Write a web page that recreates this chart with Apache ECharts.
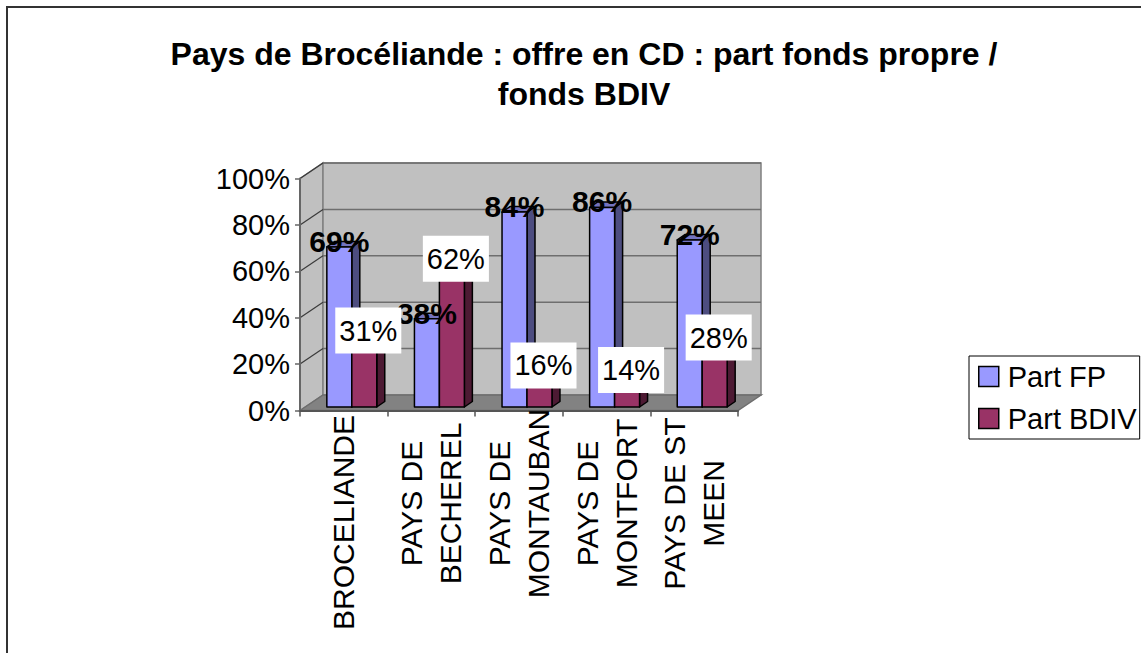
<!DOCTYPE html>
<html>
<head>
<meta charset="utf-8">
<script src="https://cdn.jsdelivr.net/npm/echarts@6/dist/echarts.min.js"></script>
<style>
  html, body { margin: 0; padding: 0; background: #fff; }
  #chart { width: 1141px; height: 653px; }
</style>
</head>
<body>
<div id="chart"></div>
<script>
var categories = ['BROCELIANDE', 'PAYS DE\nBECHEREL', 'PAYS DE\nMONTAUBAN', 'PAYS DE\nMONTFORT', 'PAYS DE ST\nMEEN'];
var partFP = [0.69, 0.38, 0.84, 0.86, 0.72];
var partBDIV = [0.31, 0.62, 0.16, 0.14, 0.28];
var yTicks = [0, 0.2, 0.4, 0.6, 0.8, 1];
var seriesNames = ['Part FP', 'Part BDIV'];

var FONT = '"Liberation Sans", Arial, sans-serif';
var WALL_DX = 23, WALL_DY = -15.5;   // depth of the back wall
var BAR_DX = 8, BAR_DY = -5.5;       // depth of one bar
var BAR_SHIFT_X = 8, BAR_SHIFT_Y = -3.5;

function pct(v) { return Math.round(v * 100) + '%'; }

// front face of bar k (0 = FP, 1 = BDIV) for the current data item
function barGeom(api, k) {
    var i = api.value(0), v = api.value(1);
    var base = api.coord([i, 0]);
    var top = api.coord([i, v]);
    var bw = api.size([1, 0])[0];
    var w = bw * 0.285;
    var x = base[0] + BAR_SHIFT_X - w + k * w;
    return { x: x, w: w, yb: base[1] + BAR_SHIFT_Y, yt: top[1] + BAR_SHIFT_Y, v: v };
}

function barRenderer(k, front, side, topc) {
    return function (params, api) {
        var g = barGeom(api, k);
        var r = g.x + g.w;
        var st = { stroke: '#000', lineWidth: 1.5, lineJoin: 'round' };
        return {
            type: 'group',
            children: [
                { type: 'polygon', shape: { points: [[r, g.yb], [r + BAR_DX, g.yb + BAR_DY], [r + BAR_DX, g.yt + BAR_DY], [r, g.yt]] },
                  style: Object.assign({ fill: side }, st) },
                { type: 'polygon', shape: { points: [[g.x, g.yt], [g.x + BAR_DX, g.yt + BAR_DY], [r + BAR_DX, g.yt + BAR_DY], [r, g.yt]] },
                  style: Object.assign({ fill: topc }, st) },
                { type: 'rect', shape: { x: g.x, y: g.yt, width: g.w, height: g.yb - g.yt },
                  style: Object.assign({ fill: front }, st) }
            ]
        };
    };
}

function labelRenderer(k) {
    return function (params, api) {
        var g = barGeom(api, k);
        var cx = g.x + g.w / 2;
        if (k === 0) {
            return { type: 'text', x: cx, y: g.yt - 5.5,
                style: { text: pct(g.v), fontFamily: FONT, fontSize: 30, fontWeight: 'bold',
                         fill: '#000', align: 'center', verticalAlign: 'middle' } };
        }
        return { type: 'text', x: cx + 4, y: g.yt - 4.5,
            style: { text: pct(g.v), fontFamily: FONT, fontSize: 29, fill: '#000',
                     align: 'center', verticalAlign: 'middle',
                     backgroundColor: '#fff', padding: [9, 4, 8, 4] } };
    };
}

function wallRenderer(params, api) {
    var n = categories.length;
    var bw = api.size([1, 0])[0];
    var x0 = api.coord([0, 0])[0] - bw / 2;
    var x1 = api.coord([n - 1, 0])[0] + bw / 2;
    var yb = api.coord([0, 0])[1];
    var yt = api.coord([0, yTicks[yTicks.length - 1]])[1];
    var children = [];
    children.push({ type: 'polygon',
        shape: { points: [[x0, yt], [x0 + WALL_DX, yt + WALL_DY], [x0 + WALL_DX, yb + WALL_DY], [x0, yb]] },
        style: { fill: '#c0c0c0', stroke: '#808080', lineWidth: 1.5 } });
    children.push({ type: 'rect',
        shape: { x: x0 + WALL_DX, y: yt + WALL_DY, width: x1 - x0, height: yb - yt },
        style: { fill: '#c0c0c0', stroke: '#808080', lineWidth: 1.5 } });
    yTicks.forEach(function (t) {
        if (t <= 0) return;
        var y = api.coord([0, t])[1];
        children.push({ type: 'line', shape: { x1: x0 + WALL_DX, y1: y + WALL_DY, x2: x1 + WALL_DX, y2: y + WALL_DY },
            style: { stroke: '#6e6e6e', lineWidth: 1.5 } });
        children.push({ type: 'line', shape: { x1: x0, y1: y, x2: x0 + WALL_DX, y2: y + WALL_DY },
            style: { stroke: '#3a3a3a', lineWidth: 1.2 } });
    });
    children.push({ type: 'polygon',
        shape: { points: [[x0, yb], [x0 + WALL_DX, yb + WALL_DY], [x1 + WALL_DX, yb + WALL_DY], [x1, yb]] },
        style: { fill: '#828282', stroke: '#6e6e6e', lineWidth: 1.5 } });
    return { type: 'group', children: children };
}

var chart = echarts.init(document.getElementById('chart'), null, { renderer: 'svg' });

var option = {
    animation: false,
    backgroundColor: '#fff',
    graphic: [{
        type: 'rect', silent: true,
        shape: { x: 7, y: 7, width: 1300, height: 800 },
        style: { fill: 'none', stroke: '#333', lineWidth: 2 }
    }],
    title: {
        text: 'Pays de Brocéliande : offre en CD : part fonds propre /\nfonds BDIV',
        left: 579, top: 29, textAlign: 'center',
        textStyle: { fontFamily: FONT, fontSize: 32, fontWeight: 'bold', lineHeight: 40, color: '#000' }
    },
    legend: {
        data: seriesNames,
        orient: 'vertical',
        left: 969, top: 356,
        padding: [4, 3, 4, 9],
        itemWidth: 20, itemHeight: 20, itemGap: 9,
        icon: 'rect',
        borderColor: '#000', borderWidth: 1,
        itemStyle: { borderColor: '#000', borderWidth: 1.5 },
        textStyle: { fontFamily: FONT, fontSize: 29, color: '#000', lineHeight: 33, padding: [0, 0, 0, 4] }
    },
    grid: { left: 300, right: 403, top: 178.5, bottom: 242.5 },
    xAxis: {
        type: 'category',
        data: categories,
        z: 3,
        axisLine: { lineStyle: { color: '#555', width: 2 } },
        axisTick: { show: true, length: 6, lineStyle: { color: '#555', width: 1.5 } },
        axisLabel: {
            interval: 0, rotate: 90, align: 'center', verticalAlign: 'middle', margin: 93,
            fontFamily: FONT, fontSize: 30, lineHeight: 39, color: '#000',
            formatter: function (v) { return v.indexOf('\n') < 0 ? '{s|' + v + '}' : v; },
            rich: { s: { fontFamily: FONT, fontSize: 30, color: '#000', padding: [0, 38, 0, 0] } }
        }
    },
    yAxis: {
        type: 'value', min: 0, max: 1, interval: 0.2,
        z: 3,
        splitLine: { show: false },
        axisLine: { show: true, lineStyle: { color: '#666', width: 2 } },
        axisTick: { show: true, length: 5, lineStyle: { color: '#666', width: 1.5 } },
        axisLabel: { margin: 10, fontFamily: FONT, fontSize: 29, color: '#000', formatter: pct }
    },
    series: [
        { type: 'custom', name: 'wall', z: 1, data: [[0, 0]], renderItem: wallRenderer, silent: true },
        { type: 'custom', name: seriesNames[0], z: 2, itemStyle: { color: '#9999ff' },
          data: partFP.map(function (v, i) { return [i, v]; }),
          renderItem: barRenderer(0, '#9999ff', '#4d4d80', '#7373c0') },
        { type: 'custom', name: seriesNames[1], z: 2, itemStyle: { color: '#993366' },
          data: partBDIV.map(function (v, i) { return [i, v]; }),
          renderItem: barRenderer(1, '#993366', '#4d1a33', '#73264d') },
        { type: 'custom', name: 'labels FP', z: 4, silent: true,
          data: partFP.map(function (v, i) { return [i, v]; }), renderItem: labelRenderer(0) },
        { type: 'custom', name: 'labels BDIV', z: 4, silent: true,
          data: partBDIV.map(function (v, i) { return [i, v]; }), renderItem: labelRenderer(1) }
    ]
};

chart.setOption(option);
</script>
</body>
</html>
